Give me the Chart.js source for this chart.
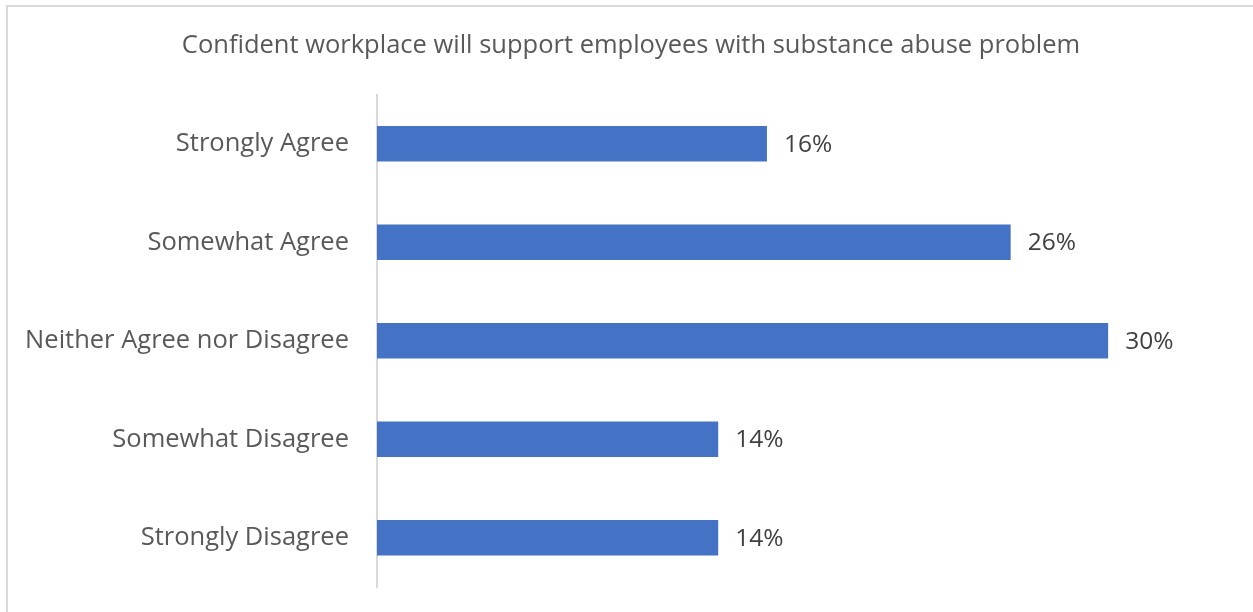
<!DOCTYPE html>
<html>
<head>
<meta charset="utf-8">
<script src="https://cdn.jsdelivr.net/npm/chart.js@4/dist/chart.umd.min.js"></script>
<style>
  html, body { margin: 0; padding: 0; background: #fff; overflow: hidden; }
  #frame {
    position: absolute; left: 6px; top: 5px; width: 1300px; height: 700px;
    border: 2px solid #d9d9d9; box-sizing: border-box;
  }
  #wrap { position: absolute; left: 0; top: 0; width: 1253px; height: 612px; }
</style>
</head>
<body>
<div id="frame"></div>
<div id="wrap"><canvas id="chart"></canvas></div>
<script>
// Survey answers, top to bottom
const categories = ['Strongly Agree', 'Somewhat Agree', 'Neither Agree nor Disagree', 'Somewhat Disagree', 'Strongly Disagree'];
const shares = [16, 26, 30, 14, 14];
const chartTitle = 'Confident workplace will support employees with substance abuse problem';

const FONT = "'Open Sans', 'Noto Sans', sans-serif";

// writes the percentage just past the end of each bar
const valueLabels = {
    id: 'valueLabels',
    afterDatasetsDraw(chart) {
        const ctx = chart.ctx;
        const meta = chart.getDatasetMeta(0);
        ctx.save();
        ctx.font = '24.5px ' + FONT;
        ctx.fillStyle = '#404040';
        ctx.textAlign = 'left';
        ctx.textBaseline = 'middle';
        meta.data.forEach((bar, i) => {
            ctx.fillText(shares[i] + '%', bar.x + 17, bar.y + 1);
        });
        ctx.restore();
    }
};

// nudge the title a little right of the canvas centre
const titleShift = {
    id: 'titleShift',
    afterLayout(chart) {
        if (chart.titleBlock) {
            chart.titleBlock.left += 32;
        }
    }
};

new Chart(document.getElementById('chart'), {
    type: 'bar',
    data: {
        labels: categories,
        datasets: [{
            data: shares,
            backgroundColor: '#4472c4',
            borderWidth: 0,
            barPercentage: 0.72,
            categoryPercentage: 0.5
        }]
    },
    options: {
        indexAxis: 'y',
        responsive: true,
        maintainAspectRatio: false,
        animation: false,
        layout: { padding: { left: 0, right: 23, top: 0, bottom: 25 } },
        plugins: {
            legend: { display: false },
            tooltip: { enabled: false },
            title: {
                display: true,
                text: chartTitle,
                color: '#595959',
                font: { family: FONT, size: 25.5, weight: 'normal' },
                padding: { top: 30, bottom: 34 }
            }
        },
        scales: {
            x: {
                display: false,
                min: 0,
                max: 35
            },
            y: {
                grid: { display: false, drawTicks: false },
                border: { display: true, color: '#d9d9d9', width: 2 },
                ticks: {
                    color: '#595959',
                    font: { family: FONT, size: 25.5 },
                    padding: 28
                },
                afterFit(scale) {
                    // fixed label column, and no extra vertical padding from the tick labels
                    scale.width = 377;
                    scale.paddingTop = 0;
                    scale.paddingBottom = 0;
                }
            }
        }
    },
    plugins: [valueLabels, titleShift]
});
</script>
</body>
</html>
